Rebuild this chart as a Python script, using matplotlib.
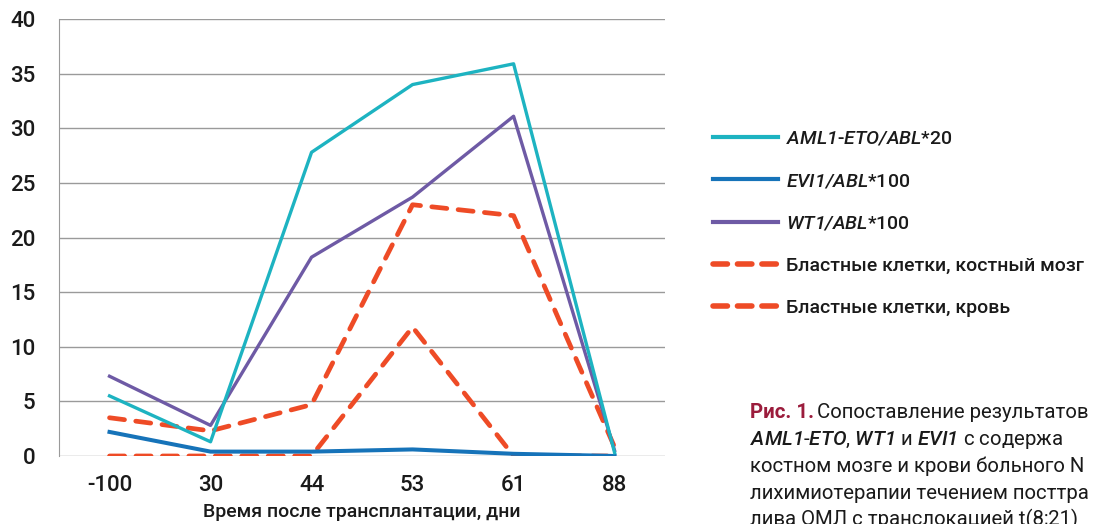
import numpy as np
import matplotlib
matplotlib.use('Agg')
import matplotlib.pyplot as plt
from matplotlib.lines import Line2D

plt.rcParams['font.family'] = ['Roboto', 'DejaVu Sans']
plt.rcParams['mathtext.fontset'] = 'custom'
plt.rcParams['mathtext.it'] = 'Roboto:italic:medium'
plt.rcParams['mathtext.rm'] = 'Roboto:italic:medium'

# data
days = ['-100', '30', '44', '53', '61', '88']
aml1_eto = [5.5, 1.3, 27.8, 34.0, 35.9, 0.3]
evi1 = [2.2, 0.4, 0.4, 0.6, 0.2, 0.0]
wt1 = [7.3, 2.8, 18.2, 23.7, 31.1, 0.5]
blasts_bm = [3.5, 2.3, 4.7, 23.0, 22.0, 0.8]
blasts_blood = [0.0, 0.0, 0.0, 11.8, 0.0, 0.0]

c_cyan = '#1db3c1'
c_blue = '#1673b9'
c_purple = '#6e5aa5'
c_red = '#ee4b26'

fig = plt.figure(figsize=(11.03, 5.24), dpi=100)
ax = fig.add_axes([0.0535, 0.1298, 0.5495, 0.8339])

x = np.arange(len(days))
dash = (0, (3.2, 2.4))
red_kw = dict(color=c_red, lw=3.4, ls=dash, dash_capstyle='round', zorder=3)
ax.plot(x, blasts_blood, **red_kw)
ax.plot(x, evi1, color=c_blue, lw=2.9, zorder=4)
ax.plot(x, blasts_bm, **red_kw)
ax.plot(x, wt1, color=c_purple, lw=2.4, zorder=4)
ax.plot(x, aml1_eto, color=c_cyan, lw=2.4, zorder=5)

ax.set_xlim(-0.5, 5.5)
ax.set_ylim(0, 40)
ax.set_yticks(range(0, 41, 5))
ax.set_xticks(x)
ax.set_xticklabels(days)
ax.yaxis.grid(True, color='#9a9a9a', lw=1)
ax.set_axisbelow(True)
for s in ['top', 'right', 'bottom']:
    ax.spines[s].set_visible(False)
ax.spines['left'].set_color('#9a9a9a')
ax.tick_params(length=0, labelsize=16, colors='#1a1a1a')
ax.tick_params(axis='y', pad=17)
ax.tick_params(axis='x', pad=14)
for t in ax.get_xticklabels() + ax.get_yticklabels():
    t.set_fontweight('medium')
ax.set_xlabel('Время после трансплантации, дни', fontsize=14, fontweight='medium',
              color='#1a1a1a', labelpad=5)

handles = [
    Line2D([], [], color=c_cyan, lw=3),
    Line2D([], [], color=c_blue, lw=3),
    Line2D([], [], color=c_purple, lw=3),
    Line2D([], [], color=c_red, lw=4, ls=(0, (2.6, 1.8)), dash_capstyle='round'),
    Line2D([], [], color=c_red, lw=4, ls=(0, (2.6, 1.8)), dash_capstyle='round'),
]
labels = [
    r'$\mathit{AML1}$-$\mathit{ETO/ABL}$*20',
    r'$\mathit{EVI1/ABL}$*100',
    r'$\mathit{WT1/ABL}$*100',
    'Бластные клетки, костный мозг',
    'Бластные клетки, кровь',
]
leg = fig.legend(handles, labels, loc='upper left', bbox_to_anchor=(0.638, 0.771),
                 frameon=False, fontsize=14, handlelength=3.3, labelspacing=1.25,
                 handletextpad=0.45, borderpad=0)
for t in leg.get_texts():
    t.set_color('#1a1a1a')
    t.set_fontweight('medium')

cap_x = 0.68
fs = 14.7
fig.text(cap_x, 1 - 418 / 524, 'Рис. 1.', fontsize=fs, fontweight='bold',
         color='#9b1c3c', va='baseline')
fig.text(cap_x + 0.061, 1 - 418 / 524, 'Сопоставление результатов', fontsize=fs,
         color='#1a1a1a', va='baseline')
fig.text(cap_x, 1 - 445 / 524, r'$\mathit{AML1}$-$\mathit{ETO}$, $\mathit{WT1}$ и $\mathit{EVI1}$ с содержа',
         fontsize=fs, color='#1a1a1a', va='baseline')
fig.text(cap_x, 1 - 472 / 524, 'костном мозге и крови больного N', fontsize=fs,
         color='#1a1a1a', va='baseline')
fig.text(cap_x, 1 - 499 / 524, 'лихимиотерапии течением посттра', fontsize=fs,
         color='#1a1a1a', va='baseline')
fig.text(cap_x, 1 - 525 / 524, 'лива ОМЛ с транслокацией t(8;21)', fontsize=fs,
         color='#1a1a1a', va='baseline')

fig.savefig('out.png', dpi=100)
